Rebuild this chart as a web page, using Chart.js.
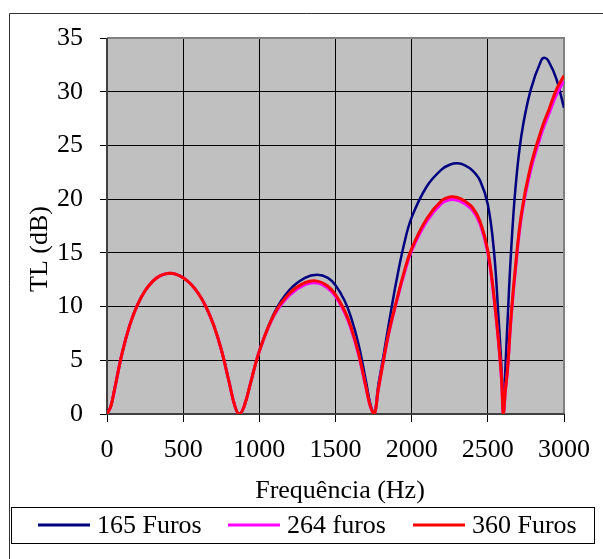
<!DOCTYPE html>
<html>
<head>
<meta charset="utf-8">
<script src="https://cdn.jsdelivr.net/npm/chart.js@4"></script>
<style>
html, body { margin: 0; padding: 0; background: #fff; }
</style>
</head>
<body>
<canvas id="chart" width="603" height="559"></canvas>
<script>
// frequencies (Hz), shared by the three series
var freqs = [0, 25, 50, 100, 150, 200, 250, 300, 350, 409, 450, 500, 550, 600, 650, 700, 750, 800, 840, 868,
    900, 950, 1000, 1100, 1200, 1300, 1380, 1450, 1500, 1560, 1600, 1650, 1700, 1730, 1755, 1780, 1810, 1850,
    1900, 1950, 2000, 2100, 2200, 2250, 2300, 2350, 2400, 2450, 2500, 2540, 2570, 2590, 2602, 2615, 2630,
    2650, 2680, 2720, 2780, 2850, 2875, 2900, 2950, 3000];

// TL (dB)
var tl165 = [0, 0.71, 2.32, 5.71, 8.3, 10.16, 11.47, 12.35, 12.88, 13.1, 13.02, 12.69, 12.1, 11.22, 9.97, 8.28, 6.01, 3.07, 0.71, 0,
    0.7, 3.3, 5.85, 9.47, 11.59, 12.68, 12.96, 12.67, 11.98, 10.54, 9.09, 6.57, 3.06, 0.85, 0, 2.6, 5.0, 8.4,
    12.4, 15.8, 18.3, 21.2, 22.8, 23.2, 23.33, 23.15, 22.65, 21.7, 19.5, 15.2, 9.0, 4.2, 0, 4.2, 8.8,
    14.5, 20.8, 25.9, 30.1, 32.9, 33.15, 32.8, 31.2, 28.5];
var tl264 = [0, 0.71, 2.32, 5.71, 8.3, 10.16, 11.47, 12.35, 12.88, 13.1, 13.02, 12.69, 12.1, 11.22, 9.97, 8.28, 6.01, 3.07, 0.71, 0,
    0.7, 3.3, 5.85, 9.25, 11.09, 12.04, 12.19, 11.71, 10.94, 9.44, 8.01, 5.6, 2.44, 0.64, 0, 2.2, 4.6, 7.5,
    10.4, 13.0, 15.2, 17.95, 19.65, 19.95, 19.9, 19.55, 18.95, 17.65, 15.0, 10.8, 6.7, 3.2, 0, 2.1, 4.2,
    8.4, 13.2, 18.3, 22.6, 26.0, 27.0, 27.9, 29.7, 31.0];
var tl360 = [0, 0.71, 2.32, 5.71, 8.3, 10.16, 11.47, 12.35, 12.88, 13.1, 13.02, 12.69, 12.1, 11.22, 9.97, 8.28, 6.01, 3.07, 0.71, 0,
    0.7, 3.3, 5.85, 9.35, 11.26, 12.22, 12.37, 11.89, 11.12, 9.61, 8.18, 5.73, 2.52, 0.66, 0, 2.2, 4.6, 7.6,
    10.5, 13.2, 15.4, 18.2, 19.9, 20.2, 20.15, 19.8, 19.2, 17.9, 15.2, 11.0, 6.8, 3.3, 0, 2.2, 4.3,
    8.6, 13.5, 18.6, 23.0, 26.4, 27.4, 28.3, 30.2, 31.5];

var seriesLabels = ["165 Furos", "264 furos", "360 Furos"];
var seriesColors = ["#000080", "#FF00FF", "#FF0000"];

var xTitle = "Frequência (Hz)";
var yTitle = "TL (dB)";

var FONT = "'Liberation Serif', 'Times New Roman', serif";

function toPoints(values) {
    return values.map(function(v, i) { return { x: freqs[i], y: v }; });
}

var framePlugin = {
    id: "frame",
    beforeDraw: function(chart) {
        var ctx = chart.ctx, a = chart.chartArea;
        ctx.save();
        ctx.fillStyle = "#fff";
        ctx.fillRect(0, 0, chart.width, chart.height);
        ctx.fillStyle = "#C0C0C0";
        ctx.fillRect(a.left, a.top, a.right - a.left, a.bottom - a.top);
        // outer frame (runs off the right and bottom edge)
        ctx.strokeStyle = "#333";
        ctx.lineWidth = 1;
        ctx.beginPath();
        ctx.moveTo(9.5, chart.height);
        ctx.lineTo(9.5, 13.5);
        ctx.lineTo(chart.width, 13.5);
        ctx.stroke();
        ctx.restore();
    },
    beforeDatasetsDraw: function(chart) {
        var ctx = chart.ctx, a = chart.chartArea;
        ctx.save();
        ctx.lineWidth = 2;
        ctx.strokeStyle = "#808080";
        ctx.beginPath();
        ctx.moveTo(a.left, a.top);
        ctx.lineTo(a.right, a.top);
        ctx.lineTo(a.right, a.bottom);
        ctx.stroke();
        ctx.strokeStyle = "#404040";
        ctx.beginPath();
        ctx.moveTo(a.left, a.top);
        ctx.lineTo(a.left, a.bottom);
        ctx.lineTo(a.right, a.bottom);
        ctx.stroke();
        ctx.restore();
    },
    afterDraw: function(chart) {
        var ctx = chart.ctx;
        ctx.save();
        ctx.fillStyle = "#000";
        ctx.font = "26px " + FONT;

        // axis titles
        ctx.textAlign = "center";
        ctx.textBaseline = "alphabetic";
        ctx.fillText(xTitle, 340, 498);
        ctx.save();
        ctx.translate(47, 249);
        ctx.rotate(-Math.PI / 2);
        ctx.fillText(yTitle, 0, 0);
        ctx.restore();

        // legend box
        ctx.strokeStyle = "#000";
        ctx.lineWidth = 1;
        ctx.strokeRect(11.5, 507.5, 583, 36);
        var lineX = [38, 228, 413];
        ctx.textAlign = "left";
        ctx.textBaseline = "middle";
        chart.data.datasets.forEach(function(ds, i) {
            ctx.strokeStyle = ds.borderColor;
            ctx.lineWidth = 3;
            ctx.beginPath();
            ctx.moveTo(lineX[i], 525);
            ctx.lineTo(lineX[i] + 52, 525);
            ctx.stroke();
            ctx.fillText(ds.label, lineX[i] + 59, 526);
        });
        ctx.restore();
    }
};

var datasets = [tl165, tl264, tl360].map(function(vals, i) {
    return {
        label: seriesLabels[i],
        data: toPoints(vals),
        borderColor: seriesColors[i],
        backgroundColor: seriesColors[i],
        borderWidth: i === 0 ? 2.5 : 3,
        pointRadius: 0,
        tension: 0.4,
        fill: false,
        order: 3 - i
    };
});

var ctx = document.getElementById("chart");
window.myChart = new Chart(ctx, {
    type: "line",
    data: { datasets: datasets },
    options: {
        responsive: false,
        animation: false,
        devicePixelRatio: 1,
        layout: { padding: { left: 10, right: 39, top: 38, bottom: 85 } },
        plugins: {
            legend: { display: false },
            tooltip: { enabled: false }
        },
        scales: {
            x: {
                type: "linear",
                min: 0,
                max: 3000,
                ticks: {
                    stepSize: 500,
                    padding: 13,
                    color: "#000",
                    font: { family: FONT, size: 26 },
                    maxRotation: 0,
                    callback: function(v) { return String(v); }
                },
                grid: {
                    color: function(c) { return c.tick && c.tick.value === 3000 ? "rgba(0,0,0,0)" : "#000"; },
                    lineWidth: 1,
                    tickColor: "#000",
                    tickLength: 8
                },
                border: { display: false },
                afterFit: function(s) { s.height = 60; }
            },
            y: {
                min: 0,
                max: 35,
                ticks: {
                    stepSize: 5,
                    padding: 17,
                    color: "#000",
                    font: { family: FONT, size: 26 },
                    callback: function(v) { return String(v); }
                },
                grid: {
                    color: function(c) { return c.tick && c.tick.value === 35 ? "rgba(0,0,0,0)" : "#000"; },
                    lineWidth: 1,
                    tickColor: "#000",
                    tickLength: 7
                },
                border: { display: false },
                afterFit: function(s) { s.width = 97; }
            }
        }
    },
    plugins: [framePlugin]
});
</script>
</body>
</html>
